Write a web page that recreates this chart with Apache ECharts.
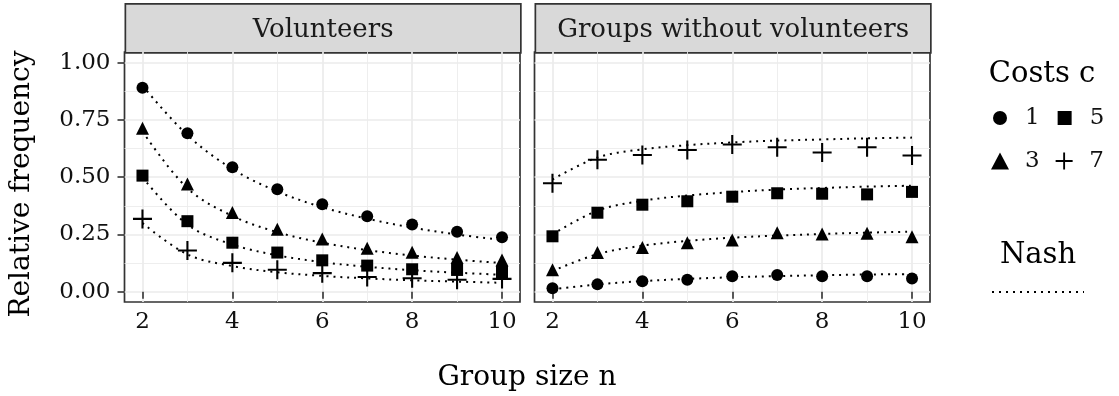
<!DOCTYPE html>
<html>
<head>
<meta charset="utf-8">
<script src="https://cdn.jsdelivr.net/npm/echarts@6.0.0/dist/echarts.min.js"></script>
<style>
  html, body { margin: 0; padding: 0; background: #fff; }
  #chart { width: 1119px; height: 396px; }
</style>
</head>
<body>
<div id="chart"></div>
<script>
// group sizes on the x axis
const groupSize = [2, 3, 4, 5, 6, 7, 8, 9, 10];
const costLevels = ['1', '3', '5', '7'];
const xMajor = [2, 4, 6, 8, 10];
const xMinor = [3, 5, 7, 9];
const yMajor = [0, 0.25, 0.5, 0.75, 1];
const yMinor = [0.125, 0.375, 0.625, 0.875];

// panel "Volunteers" - observed
const volC1 = [0.891, 0.692, 0.544, 0.448, 0.382, 0.330, 0.294, 0.262, 0.238];
const volC3 = [0.714, 0.470, 0.346, 0.273, 0.230, 0.190, 0.172, 0.149, 0.138];
const volC5 = [0.507, 0.308, 0.214, 0.171, 0.137, 0.114, 0.098, 0.095, 0.086];
const volC7 = [0.318, 0.180, 0.126, 0.096, 0.081, 0.064, 0.059, 0.052, 0.056];
// panel "Volunteers" - Nash
const nashVolC1 = [0.900, 0.684, 0.536, 0.438, 0.369, 0.319, 0.280, 0.250, 0.226];
const nashVolC3 = [0.700, 0.452, 0.331, 0.260, 0.214, 0.182, 0.158, 0.140, 0.125];
const nashVolC5 = [0.500, 0.293, 0.206, 0.159, 0.129, 0.109, 0.094, 0.083, 0.074];
const nashVolC7 = [0.300, 0.163, 0.112, 0.085, 0.069, 0.058, 0.050, 0.044, 0.039];

// panel "Groups without volunteers" - observed
const noneC1 = [0.015, 0.032, 0.046, 0.052, 0.067, 0.073, 0.067, 0.067, 0.058];
const noneC3 = [0.096, 0.171, 0.193, 0.214, 0.226, 0.258, 0.252, 0.255, 0.240];
const noneC5 = [0.242, 0.345, 0.380, 0.395, 0.415, 0.430, 0.428, 0.425, 0.436];
const noneC7 = [0.474, 0.576, 0.597, 0.619, 0.643, 0.631, 0.608, 0.631, 0.595];
// panel "Groups without volunteers" - Nash
const nashNoneC1 = [0.010, 0.032, 0.046, 0.056, 0.063, 0.068, 0.072, 0.075, 0.077];
const nashNoneC3 = [0.090, 0.164, 0.201, 0.222, 0.236, 0.245, 0.252, 0.258, 0.262];
const nashNoneC5 = [0.250, 0.354, 0.397, 0.420, 0.435, 0.446, 0.453, 0.459, 0.463];
const nashNoneC7 = [0.490, 0.586, 0.622, 0.640, 0.652, 0.660, 0.665, 0.670, 0.673];

const panelTitles = ['Volunteers', 'Groups without volunteers'];
const observed = [[volC1, volC3, volC5, volC7], [noneC1, noneC3, noneC5, noneC7]];
const nash = [[nashVolC1, nashVolC3, nashVolC5, nashVolC7], [nashNoneC1, nashNoneC3, nashNoneC5, nashNoneC7]];

const FONT = '"DejaVu Serif", serif';
const plusPath = 'path://M4.45,0h1.1v4.45h4.45v1.1h-4.45v4.45h-1.1v-4.45h-4.45v-1.1h4.45z';
const symbols = ['circle', 'triangle', 'rect', plusPath];
const symbolSizes = [12, 13, 12, 19];

const panelLeft = [124.5, 534.5];
const panelW = 395.5, panelTop = 52, panelH = 250;

const zip = (xs, ys) => xs.map((x, i) => [x, ys[i]]);

let grid = [], xAxis = [], yAxis = [], series = [];
panelLeft.forEach((left, p) => {
  grid.push({ left: left, top: panelTop, width: panelW, height: panelH, show: true,
    borderColor: '#333', borderWidth: 1.7, backgroundColor: '#fff' });
  // major + minor x axes
  xAxis.push({ type: 'value', gridIndex: p, min: 1.6, max: 10.4,
    axisLine: { show: false },
    axisTick: { show: true, customValues: xMajor, length: 7, lineStyle: { color: '#333', width: 1.6 } },
    axisLabel: { customValues: xMajor, margin: 9, fontFamily: FONT, fontSize: 23, color: '#111' },
    splitLine: { show: true, lineStyle: { color: '#ebebeb', width: 1.7 } } });
  xAxis.push({ type: 'value', gridIndex: p, min: 1.6, max: 10.4, position: 'top',
    axisLine: { show: false },
    axisTick: { show: false, customValues: xMinor },
    axisLabel: { show: false, customValues: xMinor },
    splitLine: { show: true, lineStyle: { color: '#ebebeb', width: 0.85 } } });
  yAxis.push({ type: 'value', gridIndex: p, min: -0.045, max: 1.047,
    axisLine: { show: false },
    axisTick: { show: p === 0, customValues: yMajor, length: 7, lineStyle: { color: '#333', width: 1.6 } },
    axisLabel: { show: p === 0, customValues: yMajor, margin: 14, fontFamily: FONT, fontSize: 23, color: '#111',
      formatter: v => v.toFixed(2) },
    splitLine: { show: true, lineStyle: { color: '#ebebeb', width: 1.7 } } });
  yAxis.push({ type: 'value', gridIndex: p, min: -0.045, max: 1.047, position: 'right',
    axisLine: { show: false },
    axisTick: { show: false, customValues: yMinor },
    axisLabel: { show: false, customValues: yMinor },
    splitLine: { show: true, lineStyle: { color: '#ebebeb', width: 0.85 } } });

  costLevels.forEach((c, k) => {
    series.push({ name: 'Nash', type: 'line', xAxisIndex: p * 2, yAxisIndex: p * 2,
      data: zip(groupSize, nash[p][k]), symbol: 'none', smooth: 0.35, z: 2, silent: true,
      itemStyle: { color: '#000' },
      lineStyle: { color: '#000', width: 2, type: [2, 5] } });
    series.push({ name: c, type: 'scatter', xAxisIndex: p * 2, yAxisIndex: p * 2,
      data: zip(groupSize, observed[p][k]), symbol: symbols[k], symbolSize: symbolSizes[k],
      itemStyle: { color: '#000', opacity: 1 }, z: 3, silent: true });
  });
});

const legendText = { fontFamily: FONT, fontSize: 23, color: '#111', lineHeight: 24 };

const chart = echarts.init(document.getElementById('chart'), null, { renderer: 'canvas' });
chart.setOption({
  animation: false,
  backgroundColor: '#fff',
  grid: grid,
  xAxis: xAxis,
  yAxis: yAxis,
  series: series,
  legend: [
    { data: ['1', '5'], left: 988, top: 101, itemWidth: 14, itemHeight: 14, itemGap: 18,
      selectedMode: false, textStyle: Object.assign({ padding: [0, 0, 0, 13] }, legendText) },
    { data: ['3', '7'], left: 986, top: 144, itemWidth: 18, itemHeight: 17, itemGap: 16,
      selectedMode: false, textStyle: Object.assign({ padding: [0, 0, 0, 11] }, legendText) },
    { data: ['Nash'], left: 986, top: 281, itemWidth: 92, itemHeight: 12,
      selectedMode: false, formatter: () => '', itemStyle: { opacity: 0 }, textStyle: { fontSize: 1 } }
  ],
  graphic: [
    ...panelLeft.map((left, p) => ({
      type: 'group', left: left, top: 3, children: [
        { type: 'rect', shape: { x: 0, y: 0, width: panelW, height: 49 },
          style: { fill: '#d9d9d9', stroke: '#333', lineWidth: 1.7 } },
        { type: 'text', x: panelW / 2, y: 26,
          style: { text: panelTitles[p], font: '26px ' + FONT, fill: '#1a1a1a', align: 'center', verticalAlign: 'middle' } }
      ]
    })),
    { type: 'text', x: 22, y: 184, rotation: Math.PI / 2,
      style: { text: 'Relative frequency', font: '28px ' + FONT, fill: '#000', align: 'center', verticalAlign: 'middle' } },
    { type: 'text', x: 527, y: 378,
      style: { text: 'Group size n', font: '28px ' + FONT, fill: '#000', align: 'center', verticalAlign: 'middle' } },
    { type: 'text', x: 1042, y: 74,
      style: { text: 'Costs c', font: '29px ' + FONT, fill: '#000', align: 'center', verticalAlign: 'middle' } },
    { type: 'text', x: 1038, y: 255,
      style: { text: 'Nash', font: '29px ' + FONT, fill: '#000', align: 'center', verticalAlign: 'middle' } }
  ]
});
</script>
</body>
</html>
